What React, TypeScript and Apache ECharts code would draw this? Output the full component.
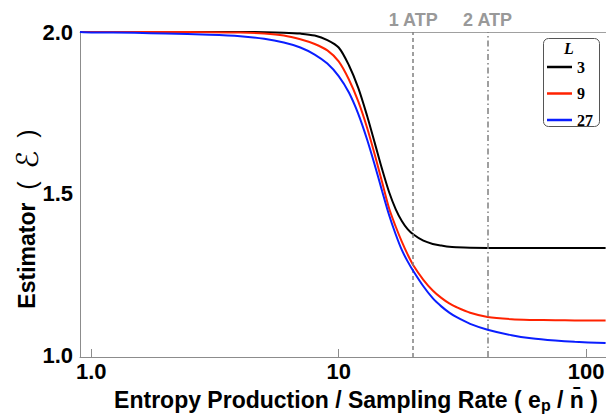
import React, { useEffect, useRef } from "react";
import * as echarts from "echarts";

// Sample positions along the x axis (entropy production / sampling rate)
const xValues = [0.9, 1, 1.5, 2, 3, 4, 5, 6, 7, 8, 9, 10, 11, 12, 13, 14, 15, 16, 17, 18, 19, 20, 22, 24, 26, 28, 30, 34, 40, 50, 60, 75, 90, 120];

// Estimator values per L
const estL3 = [2.0, 2.0, 2.0, 2.0, 2.0, 2.0, 1.9995, 1.998, 1.995, 1.989, 1.975, 1.952, 1.897, 1.827, 1.743, 1.656, 1.574, 1.504, 1.452, 1.415, 1.39, 1.374, 1.354, 1.344, 1.339, 1.335, 1.3335, 1.332, 1.3315, 1.3315, 1.3315, 1.3315, 1.3315, 1.3315];
const estL9 = [2.0, 2.0, 2.0, 1.9999, 1.9996, 1.9985, 1.9956, 1.9895, 1.9777, 1.963, 1.943, 1.909, 1.853, 1.785, 1.706, 1.62, 1.534, 1.4535, 1.398, 1.351, 1.3115, 1.279, 1.233, 1.2, 1.177, 1.16, 1.148, 1.131, 1.118, 1.111, 1.1088, 1.1077, 1.1072, 1.107];
const estL27 = [2.0, 1.9988, 1.9974, 1.9952, 1.9917, 1.9871, 1.9789, 1.9674, 1.9521, 1.9302, 1.9022, 1.8634, 1.8125, 1.7467, 1.6697, 1.5878, 1.5065, 1.4328, 1.3739, 1.3253, 1.29, 1.261, 1.213, 1.176, 1.1507, 1.1314, 1.1171, 1.0965, 1.0785, 1.0614, 1.0519, 1.0449, 1.041, 1.037];

const seriesNames = ["3", "9", "27"];
const seriesColors = ["#000000", "#ff2200", "#0a1eff"];

const xTickValues = [1, 10, 100];
const yTickValues = [1.0, 1.5, 2.0];

const atpValues = [20, 40];
const atpLabels = ["1 ATP", "2 ATP"];

export default function App() {
  const ref = useRef<HTMLDivElement>(null);

  useEffect(() => {
    if (!ref.current) return;
    const chart = echarts.init(ref.current, null, { renderer: "svg" });
    const sans = "Liberation Sans";
    const serif = "Liberation Serif";
    const axisGray = "#8c8c8c";

    const pairs = (ys: number[]) => xValues.map((x, i) => [x, ys[i]]);
    const allY = [estL3, estL9, estL27];

    const atpLabel = {
      show: true,
      position: "end",
      formatter: "{b}",
      color: "#999999",
      fontFamily: sans,
      fontWeight: "bold",
      fontSize: 18,
      distance: 3,
    };

    const series: any[] = seriesNames.map((name, i) => ({
      type: "line",
      name,
      data: pairs(allY[i]),
      showSymbol: false,
      symbol: "none",
      smooth: 0.3,
      lineStyle: { color: seriesColors[i], width: 2 },
      itemStyle: { color: seriesColors[i] },
      z: 3 + i,
    }));

    series[0].markLine = {
      silent: true,
      symbol: ["none", "none"],
      animation: false,
      label: atpLabel,
      data: atpValues.map((v, i) => ({
        xAxis: v,
        name: atpLabels[i],
        label: atpLabel,
        lineStyle: {
          color: "#808080",
          width: 1.5,
          type: i === 0 ? [4, 3] : [6, 3, 1.5, 3],
        },
      })),
    };

    chart.setOption({
      animation: false,
      grid: { left: 80, right: 4.4, top: 32, bottom: 59, containLabel: false },
      xAxis: [
        {
          type: "log",
          logBase: 10,
          min: 0.9,
          max: 120,
          position: "bottom",
          axisLine: { show: true, onZero: false, lineStyle: { color: axisGray, width: 1 } },
          axisTick: { show: true, inside: true, length: 8, customValues: xTickValues, lineStyle: { color: axisGray, width: 1 } },
          minorTick: { show: false },
          splitLine: { show: false },
          axisLabel: {
            customValues: xTickValues,
            formatter: (v: number) => (v === 1 ? "1.0" : String(Math.round(v))),
            color: "#000",
            fontFamily: sans,
            fontWeight: "bold",
            fontSize: 22,
            margin: 3,
          },
        },
        {
          type: "log",
          logBase: 10,
          min: 0.9,
          max: 120,
          position: "top",
          axisLine: { show: true, onZero: false, lineStyle: { color: "#a0a0a0", width: 1 } },
          axisTick: { show: false },
          axisLabel: { show: false },
          splitLine: { show: false },
        },
      ],
      yAxis: {
        type: "value",
        min: 0.994,
        max: 2.0,
        axisLine: { show: true, onZero: false, lineStyle: { color: axisGray, width: 1 } },
        axisTick: { show: false },
        splitLine: { show: false },
        axisLabel: {
          customValues: yTickValues,
          formatter: (v: number) => v.toFixed(1),
          color: "#000",
          fontFamily: sans,
          fontWeight: "bold",
          fontSize: 22,
          margin: 7,
        },
      },
      legend: {
        data: seriesNames,
        orient: "vertical",
        left: 547,
        top: 59,
        padding: 0,
        itemWidth: 25,
        itemHeight: 2.5,
        itemGap: 10.5,
        icon: "rect",
        selectedMode: false,
        textStyle: {
          fontFamily: serif,
          fontWeight: "bold",
          fontSize: 16,
          color: "#000",
          lineHeight: 14,
        },
        z: 10,
      },
      graphic: [
        {
          type: "rect",
          z: 8,
          shape: { x: 543.5, y: 38.5, width: 56, height: 88, r: 5 },
          style: { fill: "#ffffff", stroke: "#555555", lineWidth: 1 },
        },
        {
          type: "text",
          z: 9,
          x: 569,
          y: 48,
          style: {
            text: "L",
            fontFamily: serif,
            fontStyle: "italic",
            fontWeight: "bold",
            fontSize: 16,
            fill: "#000",
            align: "center",
            verticalAlign: "middle",
          },
        },
        {
          type: "text",
          x: 356,
          y: 400,
          style: {
            text: "Entropy Production / Sampling Rate ( e{sub|p} / n\u0304 )",
            fontFamily: sans,
            fontWeight: "bold",
            fontSize: 23,
            fill: "#000",
            align: "center",
            verticalAlign: "middle",
            rich: {
              sub: {
                fontFamily: sans,
                fontWeight: "bold",
                fontSize: 16,
                fill: "#000",
                padding: [10, 0, 0, 0],
              },
            },
          },
        },
        {
          type: "text",
          x: 27,
          y: 219,
          rotation: Math.PI / 2,
          style: {
            text: "Estimator  {p|(}  {e|\u2130}  {p|)}",
            fontFamily: sans,
            fontWeight: "bold",
            fontSize: 23,
            fill: "#000",
            align: "center",
            verticalAlign: "middle",
            rich: {
              p: {
                fontFamily: sans,
                fontWeight: "normal",
                fontSize: 25,
                fill: "#000",
              },
              e: {
                fontFamily: "DejaVu Sans",
                fontWeight: "normal",
                fontSize: 30,
                fill: "#000",
              },
            },
          },
        },
      ],
      series,
    });

    return () => {
      chart.dispose();
    };
  }, []);

  return (
    <div
      ref={ref}
      style={{ position: "fixed", left: 0, top: 0, width: 610, height: 416, background: "#fff" }}
    />
  );
}
